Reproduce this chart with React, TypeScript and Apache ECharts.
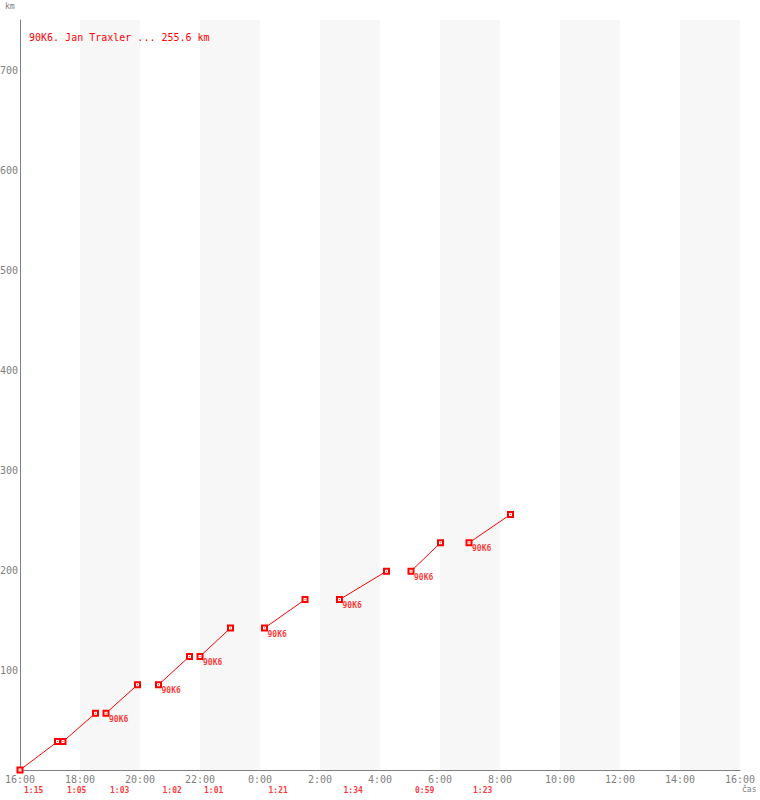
import React, { useEffect, useRef } from "react";
import * as echarts from "echarts";

// Lap data (clock times, km)
const lapStart = ["16:00", "17:26", "18:52", "20:37", "22:00", "0:09", "2:39", "5:02", "6:58"];
const lapEnd = ["17:15", "18:31", "19:55", "21:39", "23:01", "1:30", "4:13", "6:01", "8:21"];
const lapKmStart = [0, 28.4, 56.8, 85.2, 113.6, 142, 170.4, 198.8, 227.2];
const lapKmEnd = [28.4, 56.8, 85.2, 113.6, 142, 170.4, 198.8, 227.2, 255.6];
const lapDuration = ["1:15", "1:05", "1:03", "1:02", "1:01", "1:21", "1:34", "0:59", "1:23"];
const lapTeam = ["", "", "90K6", "90K6", "90K6", "90K6", "90K6", "90K6", "90K6"];
const titleText = "90K6. Jan Traxler ... 255.6 km";

const RED = "#ff0000";
const GRAY = "#808080";
const FONT = '"DejaVu Sans Mono", monospace';

const toMin = (t: string) => {
  const [h, m] = t.split(":").map(Number);
  let v = (h - 16) * 60 + m;
  if (v < 0) v += 1440;
  return v;
};

const fmtClock = (v: number) => {
  const tot = (16 * 60 + v) % 1440;
  return `${Math.floor(tot / 60)}:${String(tot % 60).padStart(2, "0")}`;
};

export default function App() {
  const ref = useRef<HTMLDivElement>(null);
  useEffect(() => {
    if (!ref.current) return;
    const chart = echarts.init(ref.current, undefined, { renderer: "svg" });

    const lineSeries = lapStart.map((s, i) => ({
      type: "line",
      data: [
        [toMin(s), lapKmStart[i]],
        [toMin(lapEnd[i]), lapKmEnd[i]],
      ],
      symbol: "emptyRect",
      symbolSize: 5,
      showAllSymbol: true,
      lineStyle: { color: RED, width: 1 },
      itemStyle: { color: RED, borderColor: RED, borderWidth: 1 },
      z: 3,
      silent: true,
    }));

    const allPts: number[][] = [];
    lapStart.forEach((s, i) => {
      allPts.push([toMin(s), lapKmStart[i]]);
      allPts.push([toMin(lapEnd[i]), lapKmEnd[i]]);
    });

    const option: any = {
      animation: false,
      grid: {
        left: 20,
        right: 20,
        top: 20,
        bottom: 30,
        containLabel: false,
        outerBoundsMode: "none",
      },
      xAxis: {
        type: "value",
        min: 0,
        max: 1440,
        interval: 120,
        axisLine: { show: true, lineStyle: { color: GRAY, width: 1 } },
        axisTick: { show: false },
        axisLabel: {
          color: GRAY,
          fontSize: 10,
          fontFamily: FONT,
          margin: 4,
          showMinLabel: true,
          showMaxLabel: true,
          formatter: (v: number) => fmtClock(v),
        },
        splitLine: { show: false },
        splitArea: { show: true, areaStyle: { color: ["#ffffff", "#f7f7f7"] } },
      },
      yAxis: {
        type: "value",
        min: 0,
        max: 750,
        interval: 100,
        axisLine: { show: true, lineStyle: { color: GRAY, width: 1 } },
        axisTick: { show: false },
        axisLabel: {
          color: GRAY,
          fontSize: 10,
          fontFamily: FONT,
          margin: 2,
          formatter: (v: number) => (v === 0 || v === 750 ? "" : String(v)),
        },
        splitLine: {
          show: true,
          showMinLine: false,
          showMaxLine: false,
          lineStyle: { color: "#eeeeee", width: 1 },
        },
      },
      series: [
        ...lineSeries,
        {
          type: "scatter",
          data: allPts,
          symbol: "rect",
          symbolSize: 1,
          itemStyle: { color: RED },
          z: 4,
          silent: true,
          clip: false,
        },
        {
          type: "scatter",
          data: lapStart
            .map((s, i) => ({ value: [toMin(s), lapKmStart[i]], name: lapTeam[i] }))
            .filter((d) => d.name !== ""),
          symbolSize: 0,
          z: 5,
          silent: true,
          clip: false,
          label: {
            show: true,
            position: "right",
            distance: 3,
            offset: [0, 6],
            formatter: (p: any) => p.name,
            color: RED,
            fontSize: 8,
            fontWeight: "bold",
            fontFamily: FONT,
          },
        },
        {
          type: "scatter",
          data: lapStart.map((s, i) => ({ value: [toMin(s), 0], name: lapDuration[i] })),
          symbolSize: 0,
          z: 5,
          silent: true,
          clip: false,
          label: {
            show: true,
            position: "right",
            distance: 4,
            offset: [0, 20.5],
            formatter: (p: any) => p.name,
            color: RED,
            fontSize: 8,
            fontWeight: "bold",
            fontFamily: FONT,
          },
        },
      ],
      graphic: [
        {
          type: "text",
          left: 29,
          top: 32,
          z: 100,
          style: { text: titleText, fill: RED, fontSize: 10, fontFamily: FONT },
        },
        {
          type: "text",
          left: 5,
          top: 2,
          z: 100,
          style: { text: "km", fill: GRAY, fontSize: 8, fontFamily: FONT },
        },
        {
          type: "text",
          left: 742,
          top: 785,
          z: 100,
          style: { text: "čas", fill: GRAY, fontSize: 8, fontFamily: FONT },
        },
      ],
    };
    chart.setOption(option);
    return () => chart.dispose();
  }, []);
  return (
    <div
      ref={ref}
      style={{ position: "absolute", left: 0, top: 0, width: 760, height: 800 }}
    />
  );
}
